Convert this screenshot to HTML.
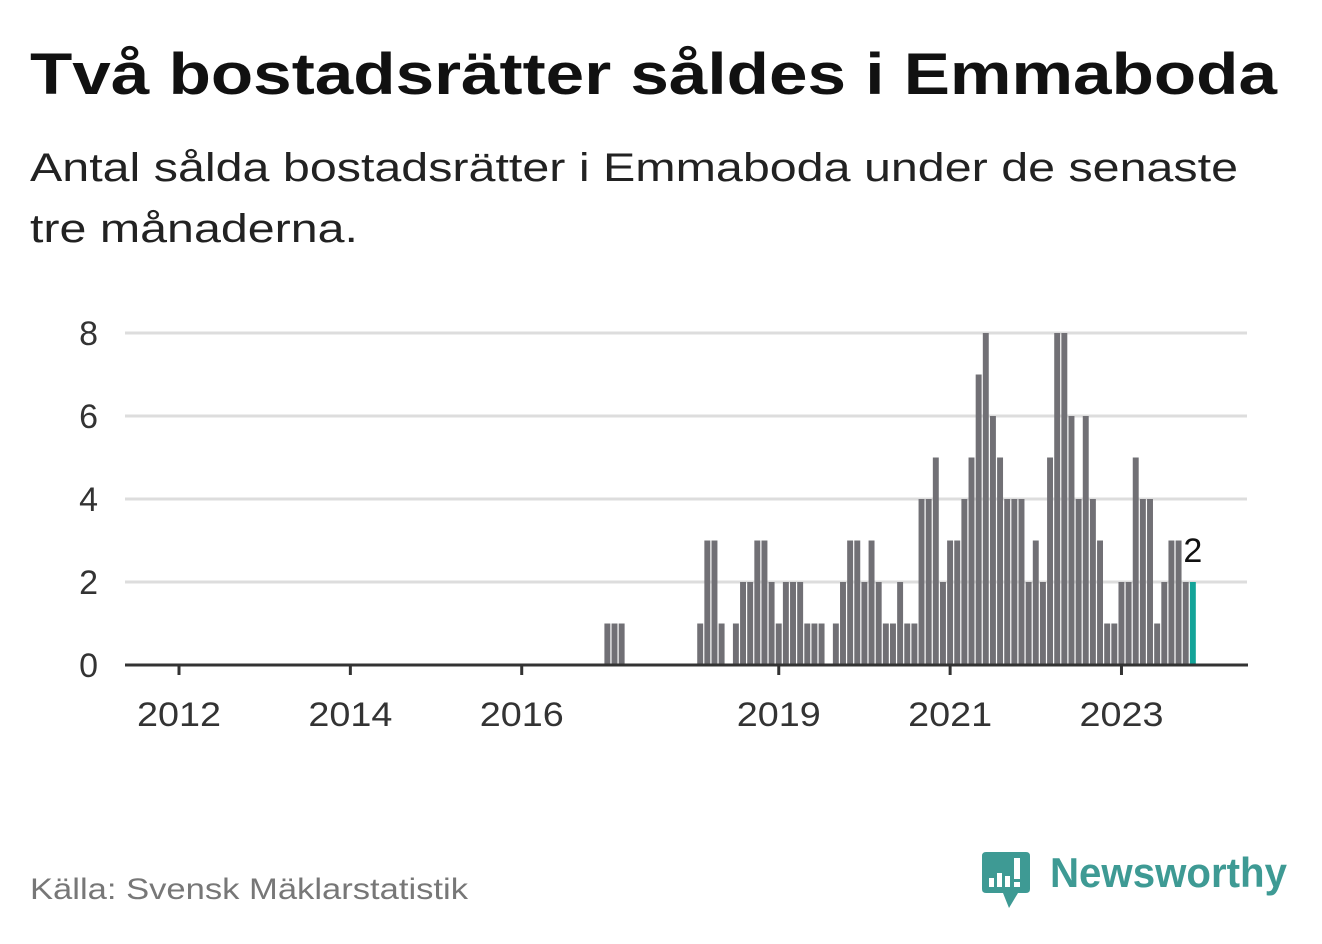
<!DOCTYPE html>
<html><head><meta charset="utf-8"><style>
body{margin:0;background:#fff;width:1322px;height:939px;overflow:hidden;font-family:"Liberation Sans",sans-serif}
</style></head><body>
<svg width="1322" height="939" viewBox="0 0 1322 939" xmlns="http://www.w3.org/2000/svg">
<text x="30" y="94" font-size="58" font-weight="bold" fill="#111" textLength="1247" lengthAdjust="spacingAndGlyphs">Två bostadsrätter såldes i Emmaboda</text>
<text x="30" y="181" font-size="40" fill="#222" textLength="1208" lengthAdjust="spacingAndGlyphs">Antal sålda bostadsrätter i Emmaboda under de senaste</text>
<text x="30" y="242" font-size="40" fill="#222" textLength="328" lengthAdjust="spacingAndGlyphs">tre månaderna.</text>
<g id="grid"></g>
<g id="bars"></g>
<g id="axis"></g>
<text x="30" y="899" font-size="30" fill="#777" textLength="438" lengthAdjust="spacingAndGlyphs">Källa: Svensk Mäklarstatistik</text>
<g>
<path d="M986 852 H1026 Q1030 852 1030 856 V889 Q1030 893 1026 893 H1018 L1009 908 L1003 893 H986 Q982 893 982 889 V856 Q982 852 986 852 Z" fill="#3e9a94"/>
<rect x="989" y="878" width="5" height="9" fill="#fff"/>
<rect x="997" y="873" width="5" height="14" fill="#fff"/>
<rect x="1005" y="876" width="5" height="11" fill="#fff"/>
<rect x="1014" y="858" width="6" height="21" fill="#fff"/>
<rect x="1014" y="882" width="6" height="5" fill="#fff"/>
<text x="1050" y="887" font-size="42" font-weight="bold" fill="#3e9a94" textLength="237" lengthAdjust="spacingAndGlyphs">Newsworthy</text>
</g>
</svg>
<script>
const values = [
0,0,0,0,0,0,0,0,0,0,0,0, 0,0,0,0,0,0,0,0,0,0,0,0, 0,0,0,0,0,0,0,0,0,0,0,0,
0,0,0,0,0,0,0,0,0,0,0,0, 0,0,0,0,0,0,0,0,0,0,0,0,
1,1,1,0,0,0,0,0,0,0,0,0,
0,1,3,3,1,0,1,2,2,3,3,2,
1,2,2,2,1,1,1,0,1,2,3,3,
2,3,2,1,1,2,1,1,4,4,5,2,
3,3,4,5,7,8,6,5,4,4,4,2,
3,2,5,8,8,6,4,6,4,3,1,1,
2,2,5,4,4,1,2,3,3,2,2];
const yTicks = [0,2,4,6,8];
const xTickYears = [2012,2014,2016,2019,2021,2023];
const NS='http://www.w3.org/2000/svg';
const x0=176, step=7.14, baseY=665, unit=41.5;
const xScale=i=>x0+i*step;
const yScale=v=>baseY-v*unit;
const grid=document.getElementById('grid'), bars=document.getElementById('bars'), axis=document.getElementById('axis');
function mk(tag,attrs,parent){const e=document.createElementNS(NS,tag);for(const k in attrs)e.setAttribute(k,attrs[k]);parent.appendChild(e);return e;}
yTicks.forEach(v=>{
  if(v>0){const l=mk('line',{x1:125,x2:1247,y1:yScale(v),y2:yScale(v),stroke:'#ddd','stroke-width':3},grid);
  
  }
  const t=mk('text',{x:98,y:yScale(v)+12,'font-size':34,fill:'#333','text-anchor':'end'},grid);
  t.textContent=v;
  
  
});
values.forEach((v,i)=>{
  if(v<=0)return;
  const last=i===values.length-1;
  const r=mk('rect',{x:xScale(i),y:yScale(v),width:step-1.2,height:v*unit,fill:last?'#13a398':'#717075'},bars);
  
  
});
const li=values.length-1;
const lb=mk('text',{x:xScale(li)+3,y:yScale(values[li])-20,'font-size':34,fill:'#111','text-anchor':'middle',stroke:'#fff','stroke-width':6,'paint-order':'stroke'},bars);
lb.textContent=values[li];


const base=mk('line',{x1:125,x2:1248,y1:baseY,y2:baseY,stroke:'#333','stroke-width':3},axis);


xTickYears.forEach(y=>{
  const x=xScale((y-2012)*12)+3;
  const tk=mk('line',{x1:x,x2:x,y1:baseY,y2:baseY+10,stroke:'#333','stroke-width':3},axis);
  
  
  const t=mk('text',{x:x,y:726,'font-size':34,fill:'#333','text-anchor':'middle',textLength:84,lengthAdjust:'spacingAndGlyphs'},axis);
  t.textContent=y;
  
  
});
</script>
</body></html>
